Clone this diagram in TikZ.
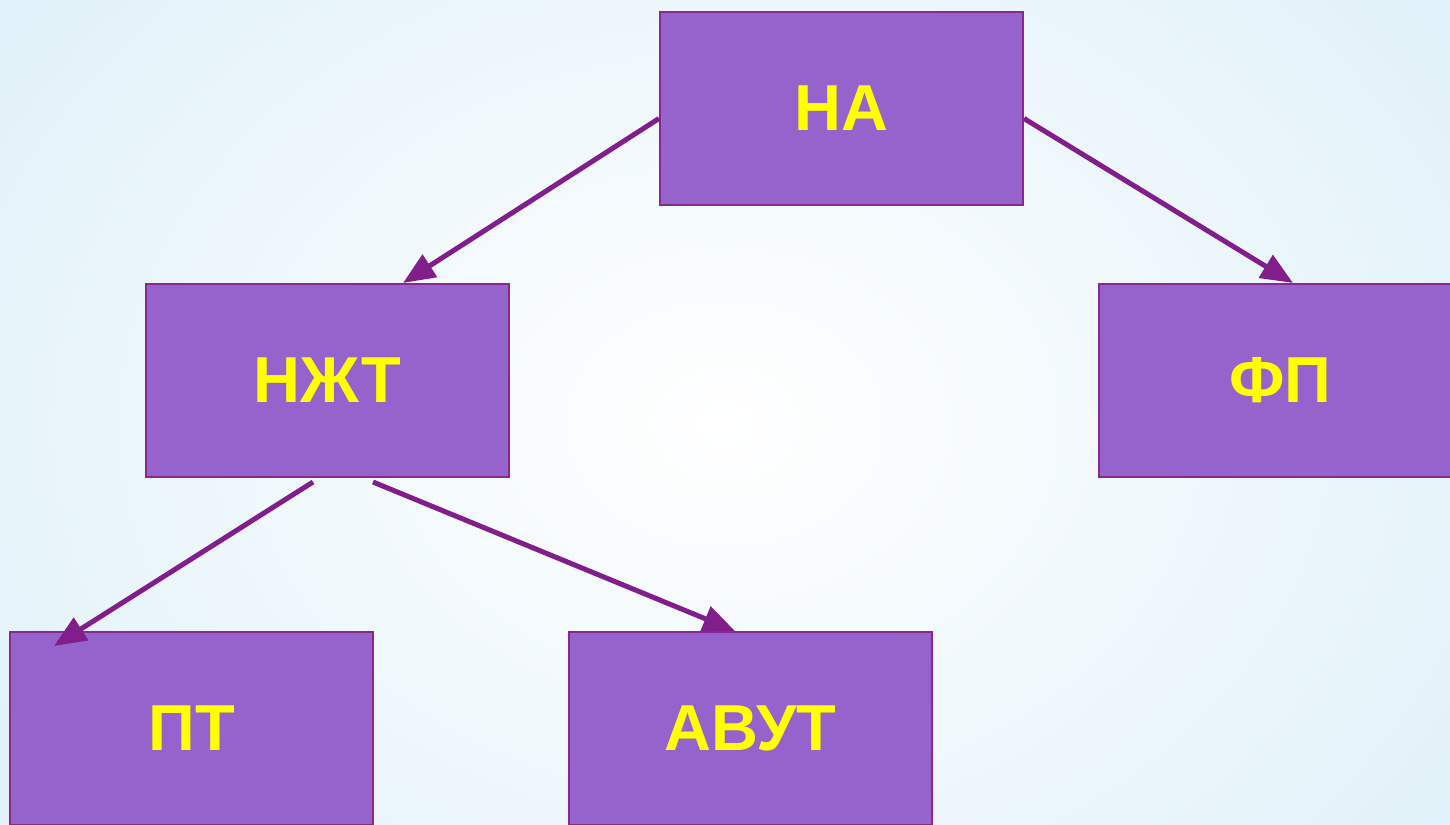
\documentclass[tikz,border=0pt]{standalone}
\usepackage{fontspec}
\setmainfont{Liberation Sans}
\usetikzlibrary{arrows.meta,positioning,shadings}
\usepackage{xcolor}
\definecolor{boxfill}{RGB}{150,98,204}
\definecolor{boxline}{RGB}{134,40,150}
\definecolor{arrcolor}{RGB}{130,30,140}
\definecolor{labelyellow}{RGB}{255,255,0}
\definecolor{bgbase}{RGB}{220,239,248}
\tikzset{
  box/.style   = {draw=boxline,line width=2pt,fill=boxfill,
                  minimum width=363pt,minimum height=193pt,inner sep=0pt,
                  text=labelyellow,font=\fontsize{65}{72}\selectfont\bfseries},
  arrow/.style = {-{Triangle[length=32pt,width=26pt]},line width=5pt,color=arrcolor},
}
\begin{document}
\begin{tikzpicture}[x=1pt,y=1pt]
  \useasboundingbox (0,0) rectangle (1450,824);
  \clip (0,0) rectangle (1450,824);
  % background
  \fill[bgbase] (0,0) rectangle (1450,824);
  \shade[inner color=white,outer color=bgbase] (-300,-400) rectangle (1750,1200);
  % boxes
  \node[box] (na)   at (841.5,715.5) {НА};
  \node[box] (nzht) at (327.5,443.5) {НЖТ};
  \node[box] (fp)   at (1280.5,443.5) {ФП};
  \node[box] (pt)   at (191.5,95.5)  {ПТ};
  \node[box] (avut) at (750.5,95.5)  {АВУТ};
  % arrows
  \draw[arrow] ([yshift=-10pt]na.west) -- ([xshift=75.5pt]nzht.north);
  \draw[arrow] ([yshift=-10pt]na.east) -- ([xshift=12.5pt]fp.north);
  \draw[arrow] ([xshift=-14.5pt,yshift=-4pt]nzht.south)
        -- ([xshift=45pt,yshift=-15pt]pt.north west);
  \draw[arrow] ([xshift=45.5pt,yshift=-4pt]nzht.south) -- ([xshift=-15.5pt]avut.north);
\end{tikzpicture}
\end{document}
